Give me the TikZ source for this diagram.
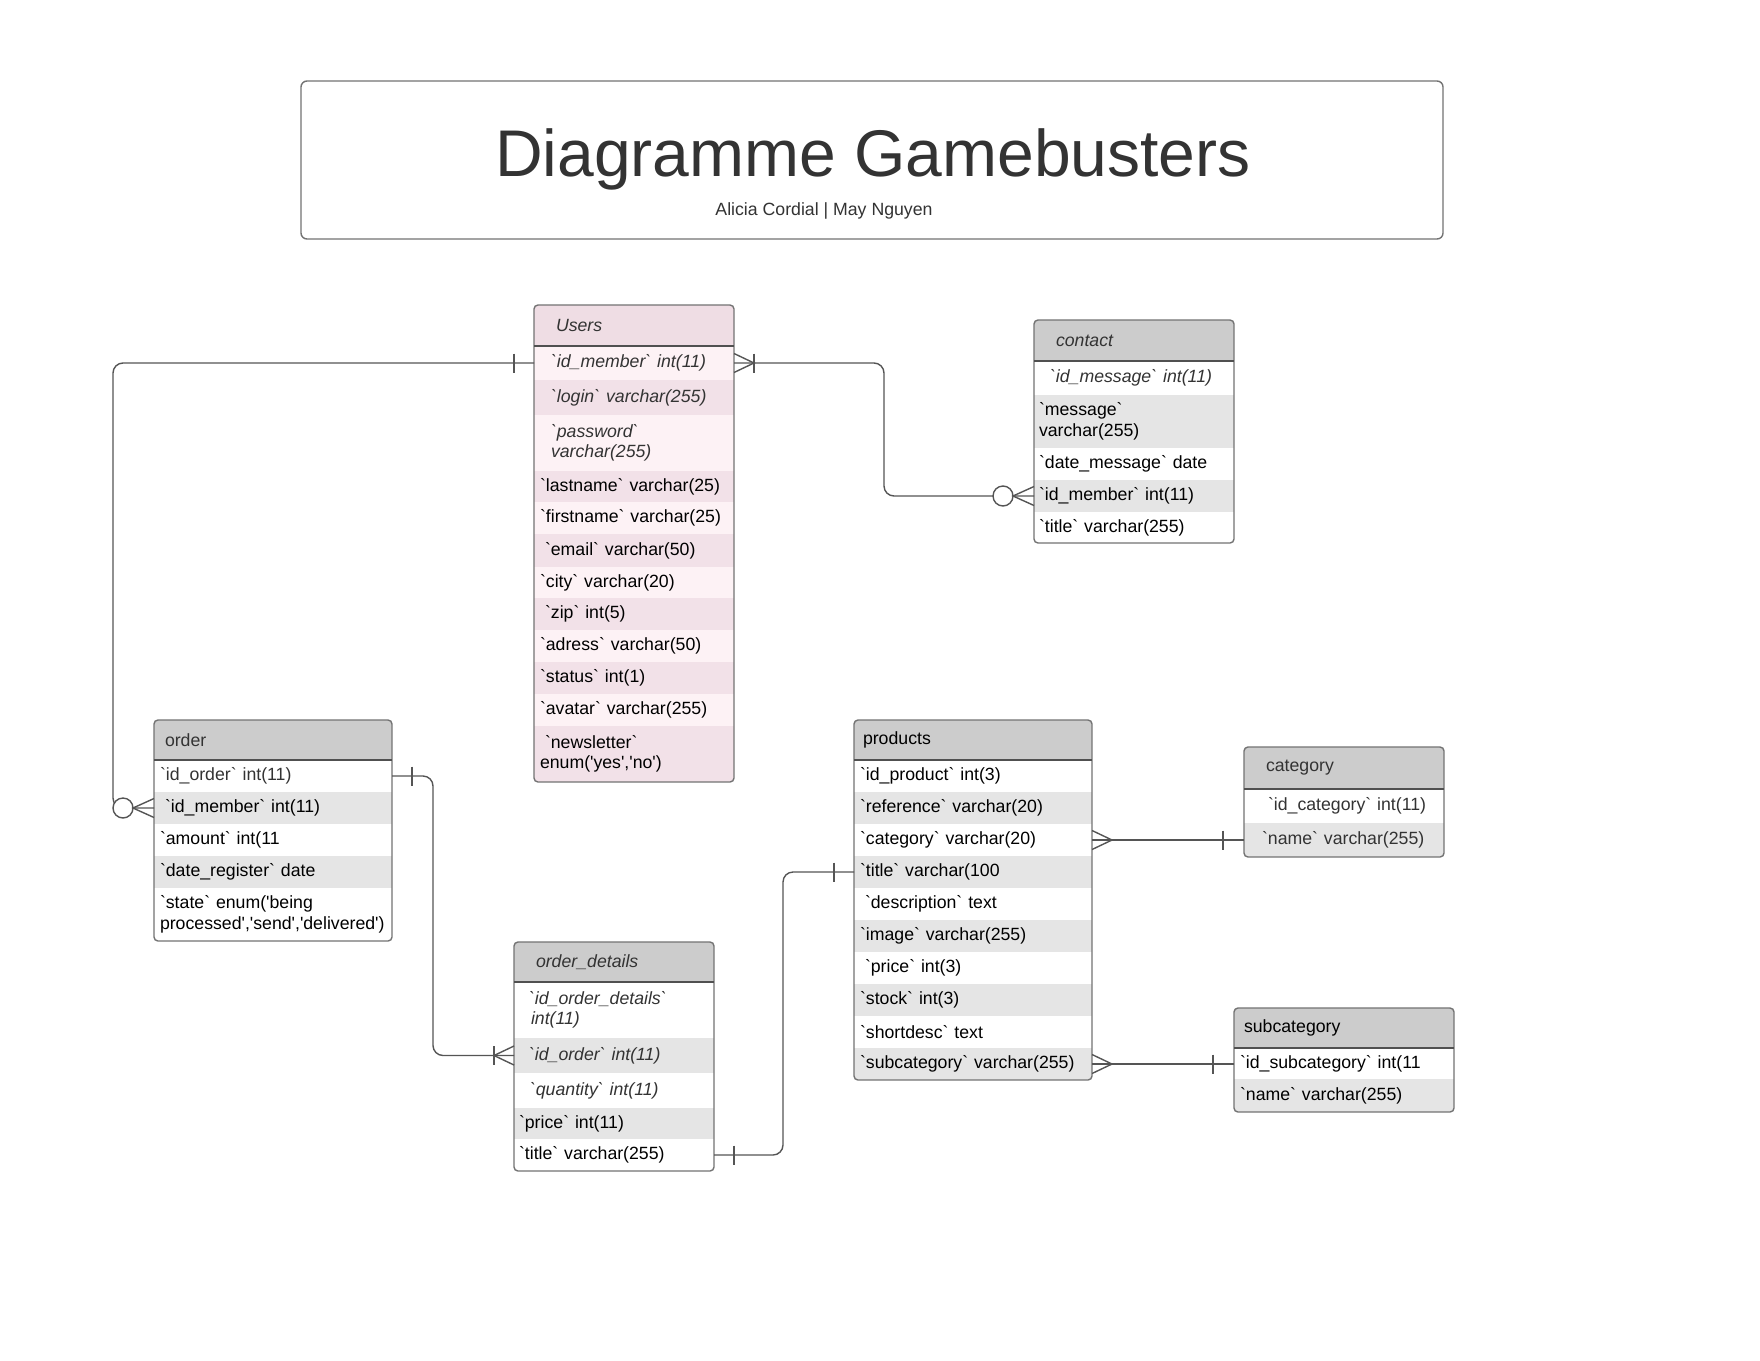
\documentclass[tikz,border=0pt]{standalone}
\usepackage{fontspec}
\setmainfont{Liberation Sans}[Ligatures=TeXOff]
\usetikzlibrary{positioning}
\definecolor{pkH}{RGB}{239,221,228}
\definecolor{pkD}{RGB}{242,225,232}
\definecolor{pkL}{RGB}{253,242,245}
\definecolor{gyH}{RGB}{204,204,204}
\definecolor{gyD}{RGB}{229,229,229}
\definecolor{txG}{RGB}{51,51,51}
\definecolor{bd}{RGB}{115,115,115}
\definecolor{ln}{RGB}{85,85,85}
\newcommand\rowfont{\fontsize{17.7pt}{20.5pt}\selectfont}
\newcommand\erow[6]{%
  \node[rowbox, fill=#4, minimum height=#3pt, anchor=north west] (#1) at (\TX,#2) {\hspace*{#5pt}#6};}
\newcommand\crowfoot[2]{\draw[conn] ([yshift=9.5pt]#1) -- ([xshift=#2]#1) -- ([yshift=-9.5pt]#1);}
\newcommand\onebar[2]{\draw[conn] ([xshift=#2,yshift=9.5pt]#1) -- ([xshift=#2,yshift=-9.5pt]#1);}
\newcommand\zerocirc[2]{\draw[conn,fill=white] ([xshift=#2]#1) circle[radius=10pt];}
\tikzset{
  rowbox/.style={inner sep=0pt, outer sep=0pt, text width=\TW pt, align=left, font=\rowfont, text=black},
  tblborder/.style={draw=bd, line width=1.4pt, rounded corners=4pt},
  hdrline/.style={draw=bd!70!black, line width=1.2pt},
  conn/.style={draw=ln, line width=1.4pt},
  titlebox/.style={draw=bd, line width=1.4pt, rounded corners=6pt, minimum width=1142pt, minimum height=158pt}
}
\begin{document}
\begin{tikzpicture}[x=1pt,y=-1pt]
\fill[white] (0,0) rectangle (1760,1360);
\useasboundingbox (0,0) rectangle (1760,1360);

% title
\node[titlebox] (tb) at (872,160) {};
\node[anchor=base, text=txG, font=\fontsize{66pt}{70pt}\selectfont, inner sep=0pt] (title) at (873,176) {Diagramme Gamebusters};
\node[anchor=base, text=txG, font=\rowfont, inner sep=0pt] (authors) at (824,215) {Alicia Cordial | May Nguyen};

% Users
\def\TX{534}\def\TW{200}
\begin{scope}
\clip[rounded corners=4pt] (\TX,305) rectangle ++(\TW,477);
\erow{u0}{305}{41}{pkH}{22}{\itshape\color{txG}Users}
\erow{u1}{346}{34}{pkL}{17}{\itshape\color{txG}`id\_member` int(11)}
\erow{u2}{380}{35}{pkD}{17}{\itshape\color{txG}`login` varchar(255)}
\erow{u3}{415}{56}{pkL}{17}{\itshape\color{txG}`password`\\\hspace*{17pt}varchar(255)}
\erow{u4}{471}{31}{pkD}{6}{`lastname` varchar(25)}
\erow{u5}{502}{32}{pkL}{6}{`firstname` varchar(25)}
\erow{u6}{534}{33}{pkD}{11}{`email` varchar(50)}
\erow{u7}{567}{31}{pkL}{6}{`city` varchar(20)}
\erow{u8}{598}{32}{pkD}{11}{`zip` int(5)}
\erow{u9}{630}{32}{pkL}{6}{`adress` varchar(50)}
\erow{u10}{662}{32}{pkD}{6}{`status` int(1)}
\erow{u11}{694}{32}{pkL}{6}{`avatar` varchar(255)}
\erow{u12}{726}{56}{pkD}{11}{`newsletter`\\\hspace*{6pt}enum('yes','no')}
\end{scope}
\draw[tblborder] (\TX,305) rectangle ++(\TW,477);
\draw[hdrline] (u0.south west) -- (u0.south east);

% contact
\def\TX{1034}\def\TW{200}
\begin{scope}
\clip[rounded corners=4pt] (\TX,320) rectangle ++(\TW,223);
\erow{c0}{320}{41}{gyH}{22}{\itshape\color{txG}contact}
\erow{c1}{361}{34}{white}{16}{\itshape\color{txG}`id\_message` int(11)}
\erow{c2}{395}{53}{gyD}{5}{`message`\\\hspace*{5pt}varchar(255)}
\erow{c3}{448}{32}{white}{5}{`date\_message` date}
\erow{c4}{480}{32}{gyD}{5}{`id\_member` int(11)}
\erow{c5}{512}{31}{white}{5}{`title` varchar(255)}
\end{scope}
\draw[tblborder] (\TX,320) rectangle ++(\TW,223);
\draw[hdrline] (c0.south west) -- (c0.south east);

% order
\def\TX{154}\def\TW{238}
\begin{scope}
\clip[rounded corners=4pt] (\TX,720) rectangle ++(\TW,221);
\erow{o0}{720}{40}{gyH}{11}{\color{txG}order}
\erow{o1}{760}{32}{white}{6}{\color{txG}`id\_order` int(11)}
\erow{o2}{792}{32}{gyD}{11}{`id\_member` int(11)}
\erow{o3}{824}{32}{white}{6}{`amount` int(11}
\erow{o4}{856}{32}{gyD}{6}{`date\_register` date}
\erow{o5}{888}{53}{white}{6}{`state` enum('being\\\hspace*{6pt}processed','send','delivered')}
\end{scope}
\draw[tblborder] (\TX,720) rectangle ++(\TW,221);
\draw[hdrline] (o0.south west) -- (o0.south east);

% products
\def\TX{854}\def\TW{238}
\begin{scope}
\clip[rounded corners=4pt] (\TX,720) rectangle ++(\TW,360);
\erow{p0}{720}{40}{gyH}{9}{products}
\erow{p1}{760}{32}{white}{6}{`id\_product` int(3)}
\erow{p2}{792}{32}{gyD}{6}{`reference` varchar(20)}
\erow{p3}{824}{32}{white}{6}{`category` varchar(20)}
\erow{p4}{856}{32}{gyD}{6}{`title` varchar(100}
\erow{p5}{888}{32}{white}{11}{`description` text}
\erow{p6}{920}{32}{gyD}{6}{`image` varchar(255)}
\erow{p7}{952}{32}{white}{11}{`price` int(3)}
\erow{p8}{984}{32}{gyD}{6}{`stock` int(3)}
\erow{p9}{1016}{32}{white}{6}{`shortdesc` text}
\erow{p10}{1048}{32}{gyD}{6}{`subcategory` varchar(255)}
\end{scope}
\draw[tblborder] (\TX,720) rectangle ++(\TW,360);
\draw[hdrline] (p0.south west) -- (p0.south east);

% order_details
\def\TX{514}\def\TW{200}
\begin{scope}
\clip[rounded corners=4pt] (\TX,942) rectangle ++(\TW,229);
\erow{d0}{942}{40}{gyH}{22}{\itshape\color{txG}order\_details}
\erow{d1}{982}{56}{white}{15}{\itshape\color{txG}`id\_order\_details`\\\hspace*{17pt}int(11)}
\erow{d2}{1038}{35}{gyD}{15}{\itshape\color{txG}`id\_order` int(11)}
\erow{d3}{1073}{35}{white}{16}{\itshape\color{txG}`quantity` int(11)}
\erow{d4}{1108}{31}{gyD}{5}{`price` int(11)}
\erow{d5}{1139}{32}{white}{5}{`title` varchar(255)}
\end{scope}
\draw[tblborder] (\TX,942) rectangle ++(\TW,229);
\draw[hdrline] (d0.south west) -- (d0.south east);

% category
\def\TX{1244}\def\TW{200}
\begin{scope}
\clip[rounded corners=4pt] (\TX,747) rectangle ++(\TW,110);
\erow{k0}{747}{42}{gyH}{22}{\color{txG}category}
\erow{k1}{789}{34}{white}{24}{\color{txG}`id\_category` int(11)}
\erow{k2}{823}{34}{gyD}{18}{\color{txG}`name` varchar(255)}
\end{scope}
\draw[tblborder] (\TX,747) rectangle ++(\TW,110);
\draw[hdrline] (k0.south west) -- (k0.south east);

% subcategory
\def\TX{1234}\def\TW{220}
\begin{scope}
\clip[rounded corners=4pt] (\TX,1008) rectangle ++(\TW,104);
\erow{s0}{1008}{40}{gyH}{10}{subcategory}
\erow{s1}{1048}{31}{white}{6}{`id\_subcategory` int(11}
\erow{s2}{1079}{33}{gyD}{6}{`name` varchar(255)}
\end{scope}
\draw[tblborder] (\TX,1008) rectangle ++(\TW,104);
\draw[hdrline] (s0.south west) -- (s0.south east);

% connectors
\coordinate (v1) at (113,0);
\coordinate (v2) at (884,0);
\coordinate (v3) at (433,0);
\coordinate (v4) at (783,0);

% Users -- order
\draw[conn, rounded corners=10pt] (u1.west) -- (u1.west -| v1) -- (o2.west -| v1) -- (o2.west);
\onebar{u1.west}{-20pt}
\zerocirc{o2.west}{-31pt}
\crowfoot{o2.west}{-21pt}

% Users -- contact
\draw[conn, rounded corners=10pt] (u1.east) -- (u1.east -| v2) -- (c4.west -| v2) -- (c4.west);
\crowfoot{u1.east}{20pt}
\onebar{u1.east}{20pt}
\zerocirc{c4.west}{-31pt}
\crowfoot{c4.west}{-21pt}

% order -- order_details
\draw[conn, rounded corners=10pt] (o1.east) -- (o1.east -| v3) -- (d2.west -| v3) -- (d2.west);
\onebar{o1.east}{20pt}
\crowfoot{d2.west}{-20pt}
\onebar{d2.west}{-20pt}

% order_details -- products
\draw[conn, rounded corners=10pt] (d5.east) -- (d5.east -| v4) -- (p4.west -| v4) -- (p4.west);
\onebar{d5.east}{20pt}
\onebar{p4.west}{-20pt}

% products -- category
\draw[conn] (p3.east) -- (p3.east -| k2.west);
\crowfoot{p3.east}{20pt}
\onebar{p3.east -| k2.west}{-21pt}

% products -- subcategory
\draw[conn] (p10.east) -- (p10.east -| s1.west);
\crowfoot{p10.east}{20pt}
\onebar{p10.east -| s1.west}{-21pt}
\end{tikzpicture}
\end{document}
